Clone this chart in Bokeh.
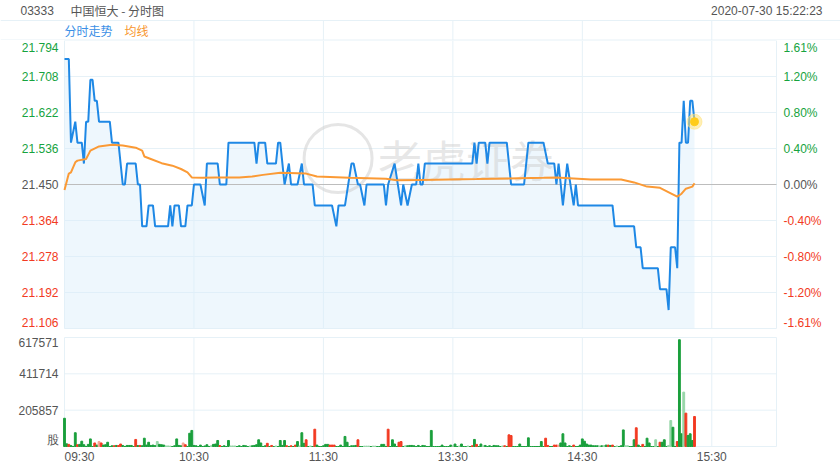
from bokeh.plotting import figure
from bokeh.models import Range1d, Span, Label
from bokeh.layouts import column
from bokeh.embed import file_html
from bokeh.resources import INLINE
from bokeh.core.properties import value

# ---------------- data ----------------
symbol = "03333"
title_cn = "中国恒大 - 分时图"
timestamp = "2020-07-30 15:22:23"
legend_price = "分时走势"
legend_avg = "均线"
prev_close = 21.45
session_minutes = 330  # 09:30-12:00 + 13:00-16:00, lunch removed

price_ticks = [21.794, 21.708, 21.622, 21.536, 21.450, 21.364, 21.278, 21.192, 21.106]
price_tick_labels = ["21.794", "21.708", "21.622", "21.536", "21.450", "21.364", "21.278", "21.192", "21.106"]
pct_tick_labels = ["1.61%", "1.20%", "0.80%", "0.40%", "0.00%", "-0.40%", "-0.80%", "-1.20%", "-1.61%"]
vol_ticks = [617571, 411714, 205857, 0]
vol_tick_labels = ["617571", "411714", "205857", "股"]
time_ticks = [0, 60, 120, 180, 240, 300]
time_tick_labels = ["09:30", "10:30", "11:30", "13:30", "14:30", "15:30"]

# price line vertices (trading minute index, price)
price_t = [0, 2, 3, 5, 6, 8, 9, 10, 11, 12, 13, 14, 15, 16, 21, 22, 25, 27, 28, 29,
           33, 34, 35, 36, 38, 39, 41, 42, 48, 49, 50, 51, 53, 54, 56, 57, 59, 60, 63, 65,
           66, 71, 72, 75, 76, 88, 89, 90, 93, 94, 98, 99, 100, 101, 102, 104, 105, 108, 110, 111,
           115, 116, 124, 126, 127, 130, 133, 134, 136, 137, 139, 140, 148, 149, 150, 153, 156, 157, 159, 161,
           163, 164, 165, 166, 167, 189, 190, 191, 192, 195, 196, 197, 205, 207, 213, 215, 222, 224, 227, 228,
           229, 231, 233, 236, 237, 238, 254, 255, 264, 265, 267, 268, 275, 276, 279, 280, 281, 283, 284, 285,
           286, 287, 288, 289, 290, 291, 292]
price_v = [21.75, 21.75, 21.55, 21.60, 21.55, 21.55, 21.50, 21.60, 21.60, 21.70, 21.70, 21.65, 21.65, 21.60, 21.60, 21.55, 21.55, 21.45, 21.45, 21.50,
           21.50, 21.45, 21.45, 21.35, 21.35, 21.40, 21.40, 21.35, 21.35, 21.40, 21.35, 21.40, 21.40, 21.35, 21.35, 21.40, 21.40, 21.45, 21.45, 21.40,
           21.50, 21.50, 21.45, 21.45, 21.55, 21.55, 21.50, 21.55, 21.55, 21.50, 21.50, 21.55, 21.55, 21.50, 21.45, 21.50, 21.45, 21.45, 21.50, 21.45,
           21.45, 21.40, 21.40, 21.35, 21.40, 21.40, 21.50, 21.50, 21.45, 21.45, 21.40, 21.45, 21.45, 21.40, 21.45, 21.50, 21.40, 21.45, 21.40, 21.45,
           21.45, 21.50, 21.45, 21.45, 21.50, 21.50, 21.55, 21.50, 21.55, 21.55, 21.50, 21.55, 21.55, 21.45, 21.45, 21.55, 21.55, 21.50, 21.50, 21.45,
           21.50, 21.40, 21.50, 21.40, 21.45, 21.40, 21.40, 21.35, 21.35, 21.30, 21.30, 21.25, 21.25, 21.20, 21.20, 21.15, 21.30, 21.30, 21.25, 21.55,
           21.55, 21.65, 21.55, 21.55, 21.65, 21.65, 21.60]

# average price line vertices
avg_t = [0, 2, 3, 5, 6, 10, 12, 16, 22, 27, 33, 36, 37, 40, 45, 50, 54, 57, 59, 64,
         70, 81, 87, 92, 100, 112, 117, 132, 149, 154, 165, 191, 222, 228, 244, 258, 264, 270, 276, 281,
         284, 286, 288, 291, 292]
avg_v = [21.437, 21.476, 21.479, 21.503, 21.507, 21.511, 21.531, 21.541, 21.545, 21.543, 21.538, 21.531, 21.517, 21.511, 21.501, 21.495, 21.487, 21.479, 21.467, 21.466,
         21.467, 21.467, 21.469, 21.473, 21.478, 21.476, 21.469, 21.466, 21.464, 21.460, 21.461, 21.463, 21.466, 21.467, 21.462, 21.462, 21.455, 21.445, 21.442, 21.429,
         21.421, 21.428, 21.440, 21.445, 21.453]

# volume per minute (shares) and bar colour code: g=up, r=down, l=light up, p=light down
volume = [160000, 15000, 12000, 5000, 0, 78000, 10000, 12000, 30000, 10000,
          0, 12000, 43000, 0, 20000, 8000, 28000, 20000, 8000, 10000,
          24000, 0, 4000, 4000, 6000, 5000, 14000, 6000, 0, 6000,
          6000, 6000, 0, 40000, 5000, 6000, 4000, 47000, 8000, 24000,
          6000, 8000, 5000, 28000, 12000, 10000, 8000, 3000, 3000, 2000,
          0, 4000, 43000, 6000, 4000, 20000, 10000, 0, 75000, 91000,
          6000, 4000, 0, 8000, 0, 3000, 10000, 0, 4000, 12000,
          14000, 34000, 5000, 0, 4000, 0, 34000, 3000, 3000, 3000,
          0, 4000, 0, 6000, 4000, 0, 3000, 4000, 6000, 10000,
          38000, 20000, 0, 4000, 18000, 0, 6000, 0, 3000, 0,
          34000, 6000, 34000, 4000, 0, 4000, 0, 8000, 28000, 3000,
          78000, 18000, 38000, 0, 3000, 0, 98000, 8000, 0, 0,
          4000, 12000, 12000, 8000, 8000, 8000, 0, 0, 8000, 0,
          57000, 24000, 0, 4000, 4000, 6000, 38000, 0, 0, 2000,
          2000, 2000, 0, 2000, 2000, 0, 0, 12000, 12000, 0,
          98000, 0, 38000, 14000, 0, 24000, 28000, 0, 4000, 4000,
          6000, 6000, 4000, 0, 6000, 0, 6000, 4000, 0, 0,
          91000, 0, 0, 0, 0, 8000, 0, 0, 0, 8000,
          3000, 14000, 0, 3000, 14000, 0, 0, 3000, 0, 4000,
          40000, 12000, 0, 14000, 3000, 6000, 0, 4000, 0, 6000,
          4000, 4000, 0, 3000, 4000, 0, 66000, 62000, 0, 0,
          0, 14000, 0, 0, 0, 49000, 0, 0, 0, 0,
          0, 28000, 0, 47000, 6000, 0, 0, 8000, 8000, 8000,
          20000, 72000, 20000, 0, 4000, 0, 8000, 0, 0, 8000,
          43000, 30000, 14000, 8000, 8000, 4000, 4000, 4000, 3000, 4000,
          4000, 8000, 8000, 6000, 8000, 0, 3000, 0, 4000, 94000,
          4000, 4000, 0, 0, 38000, 106000, 8000, 0, 12000, 0,
          47000, 20000, 0, 0, 38000, 0, 24000, 24000, 38000, 0,
          6000, 147000, 109000, 0, 28000, 605000, 72000, 308000, 189000, 62000,
          72000, 34000, 170000]
volume_dir_rows = ["ggrgggrggg", "ggggrgprgg", "gggrgrrggg", "gggrgrgggg", "ggglggglll",
                   "gggggprggg", "gggggggglg", "ggrgggglll", "gggggglggg", "ggggrgrglg",
                   "gggrgrgrgl", "ggrglgrggg", "gggrrrgggg", "ggggggrggl", "llgllggggg",
                   "rggggrrglg", "gggggggggg", "gggggggggg", "lgglggglgr", "grgglggggg",
                   "ggglrgrrgg", "gggggggggg", "gggrrggrrp", "ggggggrggg", "gggggggglg",
                   "lgrgrglggg", "llgggrggrg", "gggglgrggg", "llggrgglrg", "ggr"]
volume_dir = "".join(volume_dir_rows)

# ---------------- style / layout ----------------
W, H = 840, 470
HDR_H, PRICE_H, VOL_H = 40, 292, 138
PLOT_L, PLOT_R = 64, 776            # pixel edges of the chart area
PRICE_PANEL_PX = 288                 # price panel height in px (rest = gap)
VOL_TOP_GAP, VOL_PANEL_PX = 5, 109   # volume panel: gap above, panel height
NUM_FONT = "Liberation Sans"
CJK_FONT = "Noto Sans CJK SC"
GRID = "#e6f1f7"
GREY = "#555555"
UP = "#16a33e"
DOWN = "#f23a22"
BLUE = "#1e88e5"
ORANGE = "#fb9a35"
bar_palette = {"g": "#1a9f3c", "r": "#f23a22", "l": "#97d6a8", "p": "#f6a394"}


def lab_color(v):
    if v > prev_close + 1e-9:
        return UP
    if v < prev_close - 1e-9:
        return DOWN
    return GREY


px_per_min = (PLOT_R - PLOT_L) / session_minutes
xr = Range1d(-PLOT_L / px_per_min, session_minutes + (W - PLOT_R) / px_per_min)

p_lo, p_hi = price_ticks[-1], price_ticks[0]
p_per_px = (p_hi - p_lo) / PRICE_PANEL_PX
p_yr = Range1d(p_lo - (PRICE_H - PRICE_PANEL_PX) * p_per_px, p_hi)

v_max = vol_ticks[0]
v_per_px = v_max / VOL_PANEL_PX
v_yr = Range1d(-(VOL_H - VOL_TOP_GAP - VOL_PANEL_PX) * v_per_px, v_max + VOL_TOP_GAP * v_per_px)


def base_fig(height, yr):
    f = figure(width=W, height=height, x_range=xr, y_range=yr, output_backend="svg",
               toolbar_location=None, min_border=0, x_axis_location=None, y_axis_location=None)
    f.grid.visible = False
    f.outline_line_color = None
    f.background_fill_color = "white"
    return f


# ---------------- header ----------------
hdr = base_fig(HDR_H, Range1d(0, HDR_H))
hdr.add_layout(Span(location=20, dimension="width", line_color=GRID, line_width=1))
hdr.add_layout(Span(location=0.5, dimension="width", line_color=GRID, line_width=1))
hdr.segment(x0=time_ticks[1:], x1=time_ticks[1:], y0=0, y1=20, line_color=GRID, line_width=1)
hdr.add_layout(Label(x=20, y=30, x_units="screen", y_units="screen", text=symbol, text_font=NUM_FONT,
                     text_font_size="12px", text_color=GREY, text_baseline="middle"))
hdr.add_layout(Label(x=70, y=30, x_units="screen", y_units="screen", text=title_cn, text_font=CJK_FONT,
                     text_font_size="12px", text_color=GREY, text_baseline="middle"))
hdr.add_layout(Label(x=822, y=30, x_units="screen", y_units="screen", text=timestamp, text_font=NUM_FONT,
                     text_font_size="12px", text_color=GREY, text_baseline="middle", text_align="right"))
hdr.add_layout(Label(x=64, y=10, x_units="screen", y_units="screen", text=legend_price, text_font=CJK_FONT,
                     text_font_size="12px", text_color="#3b8fe6", text_baseline="middle"))
hdr.add_layout(Label(x=124, y=10, x_units="screen", y_units="screen", text=legend_avg, text_font=CJK_FONT,
                     text_font_size="12px", text_color="#f7962e", text_baseline="middle"))

# ---------------- price panel ----------------
pa = base_fig(PRICE_H, p_yr)
grid_x = time_ticks + [session_minutes]
pa.segment(x0=grid_x, x1=grid_x, y0=p_lo, y1=p_hi, line_color=GRID, line_width=1)
h_ticks = [v for v in price_ticks if abs(v - prev_close) > 1e-9]
pa.segment(x0=0, x1=session_minutes, y0=h_ticks, y1=h_ticks, line_color=GRID, line_width=1)

pa.varea(x=price_t, y1=p_lo, y2=price_v, fill_color="#d9eefb", fill_alpha=0.45)
pa.segment(x0=[0], x1=[session_minutes], y0=[prev_close], y1=[prev_close],
           line_color="#bdbdbd", line_width=1)

# watermark
wm_x, wm_y = 126.8, 21.512
pa.scatter(x=[wm_x], y=[wm_y], marker="circle", size=68, fill_color=None,
           line_color="#cfcfcf", line_alpha=0.55, line_width=3)
pa.text(x=[wm_x + 18.5], y=[wm_y], text=["老虎证券"], text_font=value(CJK_FONT),
        text_font_size="44px", text_color="#cfcfcf", text_alpha=0.5, text_baseline="middle")

pa.line(price_t, price_v, line_color=BLUE, line_width=2)
pa.line(avg_t, avg_v, line_color=ORANGE, line_width=2)
pa.scatter(x=[price_t[-1]], y=[price_v[-1]], size=15, color="#ffe27a", alpha=0.55)
pa.scatter(x=[price_t[-1]], y=[price_v[-1]], size=8, color="#ffcc1a")

edge_dy = [7] + [0] * (len(price_ticks) - 2) + [-6]
label_colors = [lab_color(v) for v in price_ticks]
pa.text(x=0, y=price_ticks, text=price_tick_labels, x_offset=-6, y_offset=edge_dy,
        text_align="right", text_baseline="middle", text_font=value(NUM_FONT),
        text_font_size="12px", text_color=label_colors)
pa.text(x=session_minutes, y=price_ticks, text=pct_tick_labels, x_offset=7, y_offset=edge_dy,
        text_align="left", text_baseline="middle", text_font=value(NUM_FONT),
        text_font_size="12px", text_color=label_colors)

# ---------------- volume panel ----------------
pb = base_fig(VOL_H, v_yr)
pb.segment(x0=grid_x, x1=grid_x, y0=0, y1=v_max, line_color=GRID, line_width=1)
pb.segment(x0=0, x1=session_minutes, y0=vol_ticks, y1=vol_ticks, line_color=GRID, line_width=1)

pb.vbar(x=list(range(len(volume))), top=volume, width=0.85,
        color=[bar_palette[k] for k in volume_dir])

pb.text(x=0, y=vol_ticks, text=vol_tick_labels, x_offset=-6, y_offset=[5, 0, 0, -7],
        text_align="right", text_baseline="middle", text_font=value(NUM_FONT),
        text_font_size="12px", text_color=GREY)
pb.text(x=time_ticks, y=0, text=time_tick_labels, x_offset=[15, 0, 0, 0, 0, 0], y_offset=10,
        text_align="center", text_baseline="middle", text_font=value(NUM_FONT),
        text_font_size="12px", text_color=GREY)

layout = column(hdr, pa, pb, spacing=0)
open("out.html", "w").write(file_html(layout, INLINE))
